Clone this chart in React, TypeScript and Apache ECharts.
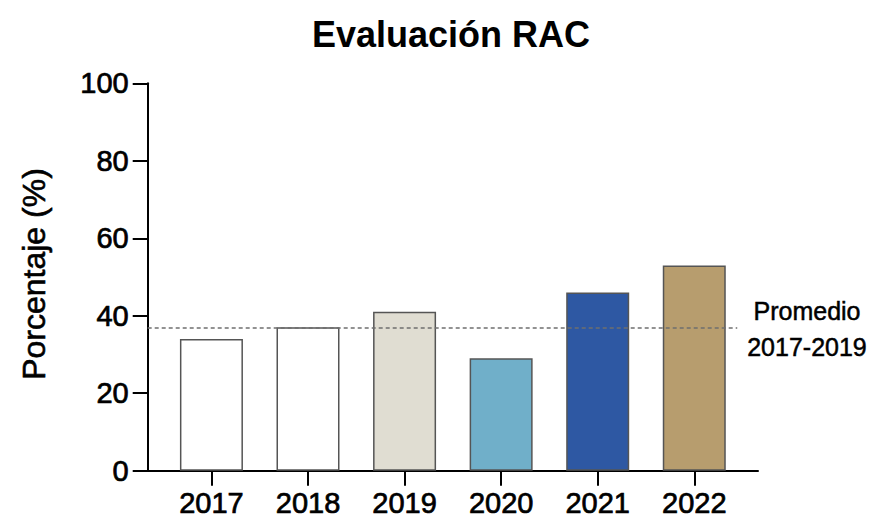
import React, { useEffect, useRef } from "react";
import * as echarts from "echarts";

const years = ["2017", "2018", "2019", "2020", "2021", "2022"];
const values = [34, 37, 41, 29, 46, 53];
const fills = ["#FFFFFF", "#FFFFFF", "#E0DDD2", "#70AFC9", "#2E58A3", "#B79D6E"];
const promedio = 37;
const yTicks = { min: 0, max: 100, interval: 20 };
const titleText = "Evaluación RAC";
const yName = "Porcentaje (%)";
const refLabel = "Promedio\n2017-2019";

const FONT = "'Liberation Sans', Arial, sans-serif";
const THICK = { textBorderColor: "#000", textBorderWidth: 0.7 };

export default function App() {
  const ref = useRef<HTMLDivElement>(null);
  useEffect(() => {
    document.body.style.margin = "0";
    const chart = echarts.init(ref.current!, null, { renderer: "svg" });
    const idx = years.map((_, i) => i);
    chart.setOption({
      animation: false,
      backgroundColor: "#FFFFFF",
      title: {
        text: titleText,
        left: 446,
        top: 11,
        textAlign: "center",
        textStyle: { fontFamily: FONT, fontSize: 36, fontWeight: "bold", color: "#000" },
      },
      grid: { left: 147.7, right: 122, top: 83.3, bottom: 59.3, containLabel: false },
      xAxis: {
        type: "value",
        min: -0.66,
        max: 5.66,
        splitLine: { show: false },
        axisLine: { show: true, onZero: false, lineStyle: { color: "#000", width: 2 } },
        axisTick: { show: true, length: 15, customValues: idx, lineStyle: { color: "#000", width: 2 } },
        axisLabel: {
          customValues: idx,
          formatter: (v: number) => years[Math.round(v)] ?? "",
          margin: 18,
          fontFamily: FONT,
          fontSize: 29,
          color: "#000",
          ...THICK,
        },
      },
      yAxis: {
        type: "value",
        min: yTicks.min,
        max: yTicks.max,
        interval: yTicks.interval,
        splitLine: { show: false },
        axisLine: { show: true, onZero: false, lineStyle: { color: "#000", width: 2 } },
        axisTick: { show: true, length: 15, lineStyle: { color: "#000", width: 2 } },
        axisLabel: { margin: 19, fontFamily: FONT, fontSize: 29, color: "#000", ...THICK },
      },
      series: [
        {
          type: "bar",
          barWidth: 63,
          data: values.map((v, i) => ({
            value: [i, v],
            itemStyle: { color: fills[i], borderColor: "#555", borderWidth: 1.5 },
          })),
          markLine: {
            silent: true,
            symbol: "none",
            z: 10,
            label: { show: false },
            lineStyle: { color: "#6f6f6f", width: 1.5, type: [4, 3] },
            data: [[{ coord: [-0.66, promedio] }, { coord: [5.445, promedio] }]],
          },
        },
      ],
      graphic: [
        {
          type: "text",
          x: 34,
          y: 274,
          rotation: Math.PI / 2,
          style: {
            text: yName,
            fontFamily: FONT,
            fontSize: 32,
            fill: "#000",
            align: "center",
            verticalAlign: "middle",
            stroke: "#000",
            lineWidth: 0.6,
          },
        },
        {
          type: "text",
          x: 807,
          y: 329,
          style: {
            text: refLabel,
            fontFamily: FONT,
            fontSize: 25,
            lineHeight: 36,
            fill: "#000",
            align: "center",
            verticalAlign: "middle",
            stroke: "#000",
            lineWidth: 0.5,
          },
        },
      ],
    });
    return () => chart.dispose();
  }, []);
  return <div ref={ref} style={{ width: 880, height: 530 }} />;
}
